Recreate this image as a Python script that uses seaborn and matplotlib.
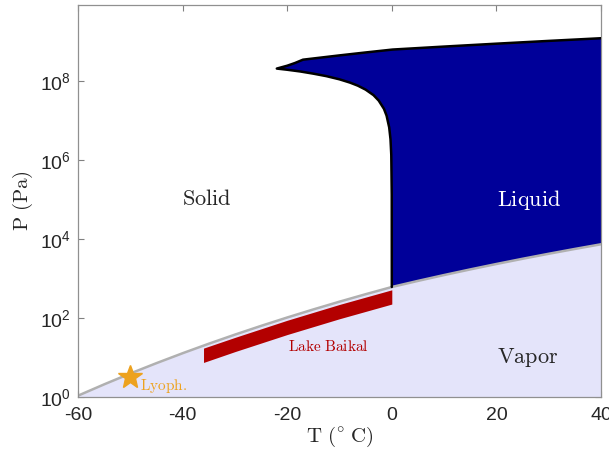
import matplotlib
matplotlib.use('Agg')
import matplotlib.pyplot as plt
import pandas as pd
import seaborn as sns

# sublimation curve (ice / vapour), T in C, P in Pa
T_sub = [-60, -55, -50, -45, -40, -35, -30, -25, -20, -15, -10, -5, 0]
P_sub = [1.08, 2.09, 3.94, 7.20, 12.84, 22.35, 38.01, 63.29, 103.26, 165.3, 259.9, 401.7, 611.2]

# vaporisation curve (liquid / vapour)
T_vap = [0, 5, 10, 15, 20, 25, 30, 35, 40]
P_vap = [611.2, 872.6, 1228, 1705, 2339, 3169, 4246, 5628, 7384]

# melting curve of ice Ih
T_melt = [0.0, -0.01, -0.1, -0.25, -0.5, -1, -1.5, -2.5, -3.5, -5, -6.5, -8, -10,
          -12.5, -15, -17.5, -20, -21.985]
P_melt = [611.7, 1.36e5, 1.36e6, 3.4e6, 6.75e6, 13.4e6, 19.9e6, 32.2e6, 44.3e6,
          61.0e6, 77e6, 92e6, 111.3e6, 134e6, 154.9e6, 176e6, 194.7e6, 208.6e6]

# melting curves of ice III, V, VI
T_high = [-21.985, -20, -18.5, -16.986, -10, -5, 0.16, 10, 20, 30, 40]
P_high = [208.6e6, 246.3e6, 289.0e6, 350.1e6, 449.9e6, 533.7e6, 632.4e6,
          752.5e6, 890.9e6, 1047.5e6, 1223.7e6]

# Lake Baikal band
T_baikal = [-36, -30, -20, -10, 0]
P_baikal_hi = [17.3, 32.3, 87.8, 221, 519]
P_baikal_lo = [7.5, 14.1, 38.2, 96, 226]

# lyophilisation point
T_lyo, P_lyo = -50, 3.3

sns.set_style('ticks')
plt.rcParams['font.family'] = ['Liberation Sans', 'DejaVu Sans']
plt.rcParams['mathtext.fontset'] = 'cm'
plt.rcParams['axes.unicode_minus'] = False

fig = plt.figure(figsize=(6.09, 4.55), dpi=100)
ax = fig.add_axes([78 / 609, 58 / 455, 523 / 609, 392 / 455])

# vapour region
T_gas = T_sub + T_vap[1:]
P_gas = P_sub + P_vap[1:]
ax.fill_between(T_gas, 0.5, P_gas, color='#e4e4fa', lw=0, zorder=1)

# liquid region
T_liq = T_vap + T_high[::-1] + T_melt[::-1]
P_liq = P_vap + P_high[::-1] + P_melt[::-1]
ax.fill(T_liq, P_liq, color='#000099', lw=0, zorder=1)

ax.fill_between(T_baikal, P_baikal_lo, P_baikal_hi, color='#b30000', lw=0, zorder=3)

gas_df = pd.DataFrame({'T': T_gas, 'P': P_gas})
sns.lineplot(data=gas_df, x='T', y='P', sort=False, estimator=None,
             color='#b0b0b0', lw=1.8, ax=ax, zorder=2)

melt_df = pd.DataFrame({'T': T_melt + T_high[1:], 'P': P_melt + P_high[1:]})
sns.lineplot(data=melt_df, x='T', y='P', sort=False, estimator=None,
             color='k', lw=1.8, ax=ax, zorder=4)

ax.plot(T_lyo, P_lyo, marker='*', ms=18, color='#eda21f', mec='#eda21f', zorder=5)

ax.set_yscale('log')
ax.set_xlim(-60, 40)
ax.set_ylim(1, 8.5e9)
ax.set_xticks([-60, -40, -20, 0, 20, 40])
ax.set_yticks([1, 1e2, 1e4, 1e6, 1e8])
ax.minorticks_off()
ax.tick_params(direction='in', top=True, right=True, length=4, width=0.8,
               color='#808080', labelsize=14, labelcolor='#262626')
ax.tick_params(axis='x', pad=7)
ax.tick_params(axis='y', pad=5)
for s in ax.spines.values():
    s.set_color('#909090')
    s.set_linewidth(0.9)

ax.set_xlabel(r'$\mathrm{T\ (^{\circ}\ C)}$', fontsize=15, labelpad=1)
ax.set_ylabel(r'$\mathrm{P\ (Pa)}$', fontsize=15, labelpad=4)

ax.text(-35.4, 1e5, r'$\mathrm{Solid}$', fontsize=16, ha='center', va='center', zorder=6)
ax.text(26.2, 1e5, r'$\mathrm{Liquid}$', fontsize=16, color='white', ha='center', va='center', zorder=6)
ax.text(26, 10, r'$\mathrm{Vapor}$', fontsize=16, ha='center', va='center', zorder=6)
ax.text(-12.2, 18.5, r'$\mathrm{Lake\ Baikal}$', fontsize=11, color='#b30000',
        ha='center', va='center', zorder=6)
ax.text(-48.2, 1.9, r'$\mathrm{Lyoph.}$', fontsize=11, color='#eda21f',
        ha='left', va='center', zorder=6)

fig.savefig('out.png', dpi=100)
